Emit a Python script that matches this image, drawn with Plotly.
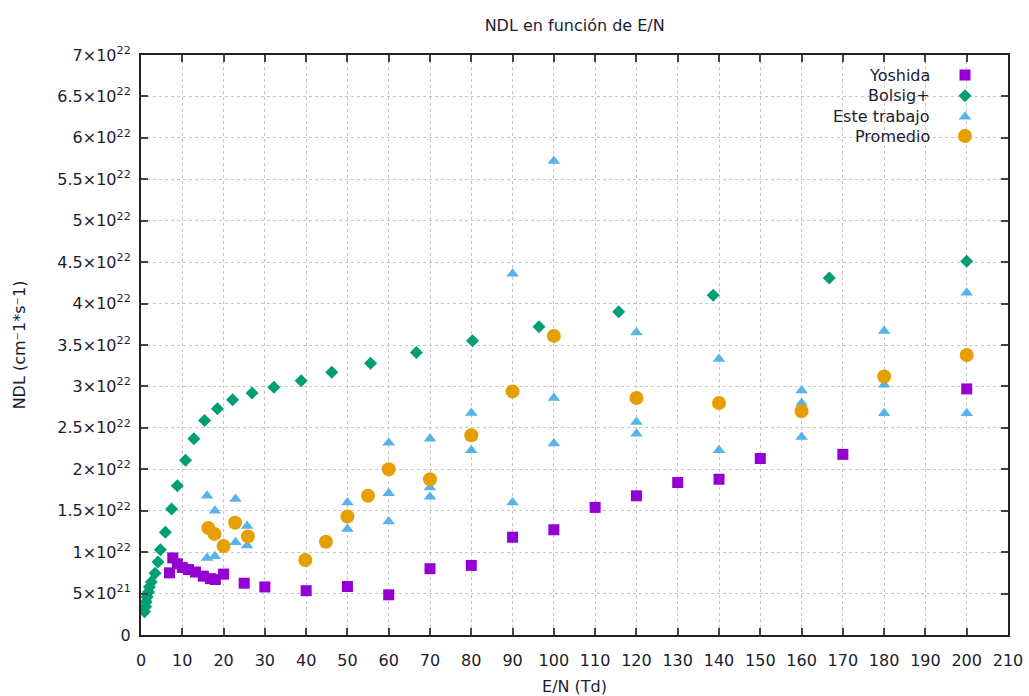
import numpy as np
import plotly.graph_objects as go

# E/N in Td, NDL in units of 1e22 cm^-1 s^-1
yoshida_x = [6.9, 7.7, 8.8, 10, 11.5, 13.2, 15.1, 16.8, 18, 20, 25, 30, 40, 50, 60,
             70, 80, 90, 100, 110, 120, 130, 140, 150, 170, 200]
yoshida_y = [0.75, 0.93, 0.86, 0.815, 0.79, 0.76, 0.71, 0.68, 0.67, 0.735, 0.625, 0.58,
             0.535, 0.585, 0.485, 0.80, 0.84, 1.18, 1.27, 1.54, 1.68, 1.84, 1.88, 2.13,
             2.18, 2.97]

bolsig_x = [0.85, 1.1, 1.25, 1.5, 1.8, 2.05, 2.5, 3.4, 4.1, 4.7, 5.9, 7.4, 8.8, 10.8,
            12.8, 15.4, 18.5, 22.2, 26.9, 32.2, 38.8, 46.2, 55.6, 66.7, 80.3, 96.4,
            115.7, 138.6, 166.7, 200]
bolsig_y = [0.28, 0.34, 0.40, 0.46, 0.52, 0.58, 0.64, 0.745, 0.88, 1.03, 1.24, 1.52,
            1.80, 2.11, 2.37, 2.59, 2.73, 2.84, 2.92, 2.99, 3.07, 3.17, 3.28, 3.41,
            3.55, 3.72, 3.90, 4.10, 4.31, 4.51]

trabajo_x = [16, 16, 17.9, 17.9, 22.9, 22.9, 25.7, 25.7, 50, 50, 60, 60, 60, 70, 70, 70,
             80, 80, 80, 90, 90, 90, 100, 100, 100, 120, 120, 120, 140, 140, 160, 160,
             160, 180, 180, 180, 200, 200]
trabajo_y = [1.68, 0.93, 1.50, 0.95, 1.64, 1.12, 1.315, 1.08, 1.60, 1.28, 2.32, 1.71,
             1.37, 2.37, 1.78, 1.67, 2.68, 2.385, 2.23, 4.36, 2.93, 1.60, 5.72, 2.86,
             2.31, 3.65, 2.57, 2.43, 3.33, 2.23, 2.95, 2.80, 2.39, 3.67, 3.02, 2.675,
             4.13, 2.675]

promedio_x = [16.3, 17.8, 20, 22.8, 25.9, 39.8, 44.8, 50, 55, 60, 70, 80, 90, 100, 120,
              140, 160, 180, 200]
promedio_y = [1.29, 1.22, 1.075, 1.355, 1.19, 0.905, 1.125, 1.43, 1.68, 2.00, 1.88, 2.41,
              2.94, 3.61, 2.86, 2.80, 2.70, 3.12, 3.38]

x_ticks = list(range(0, 211, 10))
y_tickvals = [0, 5e21, 1e22, 1.5e22, 2e22, 2.5e22, 3e22, 3.5e22, 4e22, 4.5e22,
              5e22, 5.5e22, 6e22, 6.5e22, 7e22]
y_ticktext = ["0", "5×10<sup>21</sup>", "1×10<sup>22</sup>", "1.5×10<sup>22</sup>",
              "2×10<sup>22</sup>", "2.5×10<sup>22</sup>", "3×10<sup>22</sup>",
              "3.5×10<sup>22</sup>", "4×10<sup>22</sup>", "4.5×10<sup>22</sup>",
              "5×10<sup>22</sup>", "5.5×10<sup>22</sup>", "6×10<sup>22</sup>",
              "6.5×10<sup>22</sup>", "7×10<sup>22</sup>"]

SCALE = 1e22
series = [
    ("Yoshida", yoshida_x, yoshida_y, "square", "#9400D3", 11),
    ("Bolsig+", bolsig_x, bolsig_y, "diamond", "#009E73", 10),
    ("Este trabajo", trabajo_x, trabajo_y, "triangle-up", "#56B4E9", 11),
    ("Promedio", promedio_x, promedio_y, "circle", "#E69F00", 14),
]

FONT = "DejaVu Sans"
TXT = "#1c1c30"
FS = 16

fig = go.Figure()
for name, xs, ys, sym, col, size in series:
    fig.add_trace(go.Scatter(
        x=xs, y=np.array(ys) * SCALE, mode="markers", name=name,
        marker=dict(symbol=sym, color=col, size=size, line=dict(width=0)),
        showlegend=False,
    ))

# key: labels right-aligned, symbols to their right (drawn on a fixed 0..1 overlay)
key_y = [0.9655, 0.9298, 0.8936, 0.8603]
key_sym_x = 0.9504
key_txt_x = 0.9125
annotations = []
for (name, xs, ys, sym, col, size), ky in zip(series, key_y):
    fig.add_trace(go.Scatter(
        x=[key_sym_x], y=[ky], xaxis="x2", yaxis="y2", mode="markers",
        marker=dict(symbol=sym, color=col, size=size, line=dict(width=0)),
        showlegend=False, hoverinfo="skip",
    ))
    annotations.append(dict(
        x=key_txt_x, y=ky, xref="paper", yref="paper", text=name,
        showarrow=False, xanchor="right", yanchor="middle",
        font=dict(family=FONT, size=FS, color=TXT),
    ))

axis_common = dict(
    showline=True, linecolor="#222222", linewidth=2, mirror="ticks",
    ticks="inside", ticklen=7, tickwidth=2, tickcolor="#444444",
    showgrid=True, gridcolor="#c6c6c6", griddash="dot", gridwidth=1,
    zeroline=False, automargin=False,
    tickfont=dict(family=FONT, size=FS, color=TXT),
)

fig.update_layout(
    width=1029, height=696,
    margin=dict(l=141, r=21, t=55, b=61),
    paper_bgcolor="white", plot_bgcolor="white",
    title=dict(text="NDL en función de E/N", x=0.5585, xanchor="center",
               y=0.963, yanchor="middle", automargin=False,
               font=dict(family=FONT, size=FS, color=TXT)),
    xaxis=dict(range=[0, 210], tickvals=x_ticks, ticklabelstandoff=10,
               title=dict(text="E/N (Td)", standoff=14,
                          font=dict(family=FONT, size=FS, color=TXT)),
               **axis_common),
    yaxis=dict(range=[0, 7e22], tickvals=y_tickvals, ticktext=y_ticktext,
               ticklabelstandoff=5,
               title=dict(text="NDL (cm⁻1*s⁻1)", standoff=28,
                          font=dict(family=FONT, size=FS, color=TXT)),
               **axis_common),
    xaxis2=dict(range=[0, 1], overlaying="x", visible=False, fixedrange=True),
    yaxis2=dict(range=[0, 1], overlaying="y", visible=False, fixedrange=True),
    annotations=annotations,
)

fig.write_html("out.html")
